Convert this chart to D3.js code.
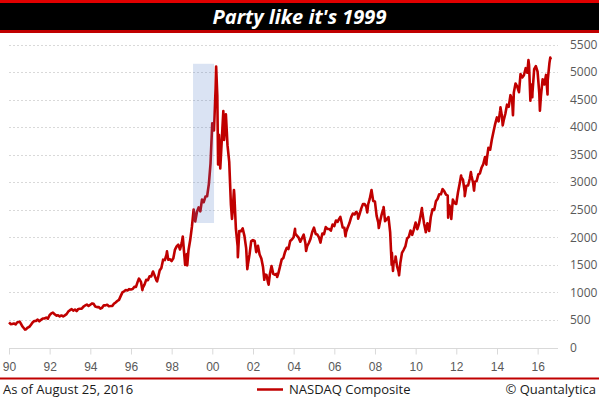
<!DOCTYPE html>
<html lang="en">
<head>
<meta charset="utf-8">
<title>Party like it's 1999</title>
<script src="https://d3js.org/d3.v7.min.js"></script>
<style>
body { margin: 0; background: white; }
svg { display: block; font-family: "Open Sans", "Noto Sans", sans-serif; }
.grid line { stroke: #d9d9d9; stroke-dasharray: 2,2; }
.tick-label { fill: #595959; font-size: 12px; }
.foot { fill: #1a1a1a; font-size: 13px; }
</style>
</head>
<body>
<script>

// month-end closes, Jan 1990 .. Jul 2016
var firstMonth = "1990-01";
var monthly = [
// 1990
425,426,435,420,459,462,438,381,344,329,359,374,
// 1991
414,453,482,484,506,476,502,525,527,542,523,586,
// 1992
620,633,603,579,585,563,581,563,583,605,652,677,
// 1993
696,670,690,661,700,704,705,743,763,779,754,777,
// 1994
800,793,743,733,735,706,722,765,764,777,750,752,
// 1995
755,793,817,843,865,933,1001,1020,1044,1036,1059,1052,
// 1996
1060,1100,1101,1191,1243,1185,1081,1142,1227,1222,1293,1291,
// 1997
1380,1309,1222,1261,1400,1442,1594,1587,1686,1593,1601,1570,
// 1998
1619,1771,1836,1868,1779,1895,1873,1499,1694,1771,1950,2193,
// 1999
2506,2288,2461,2543,2471,2686,2638,2739,2746,2966,3336,4069,
// 2000
3940,4697,4573,3861,3401,3966,3767,4206,3673,3370,2598,2471,
// 2001
2773,2152,1840,2116,2110,2161,2027,1805,1499,1690,1931,1950,
// 2002
1934,1731,1845,1688,1616,1463,1328,1315,1172,1330,1479,1336,
// 2003
1321,1337,1341,1464,1596,1623,1735,1810,1787,1932,1960,2003,
// 2004
2066,2030,1994,1920,1987,2048,1887,1838,1897,1975,2097,2175,
// 2005
2062,2052,1999,1922,2068,2057,2185,2152,2152,2120,2233,2205,
// 2006
2306,2281,2340,2323,2179,2172,2091,2184,2258,2367,2432,2415,
// 2007
2464,2416,2422,2525,2605,2603,2546,2596,2702,2859,2661,2652,
// 2008
2390,2271,2279,2413,2523,2293,2326,2368,2092,1721,1536,1577,
// 2009
1476,1378,1529,1717,1774,1835,1979,2009,2122,2045,2145,2269,
// 2010
2147,2238,2398,2461,2257,2109,2255,2114,2369,2507,2498,2653,
// 2011
2700,2782,2781,2874,2835,2774,2756,2579,2415,2684,2620,2605,
// 2012
2814,2967,3092,3046,2827,2935,2940,3067,3116,2977,3010,3020,
// 2013
3142,3160,3268,3329,3456,3403,3626,3590,3771,3920,4060,4177,
// 2014
4104,4308,4199,4115,4243,4408,4370,4580,4493,4631,4792,4736,
// 2015
4635,4964,4901,4941,5070,4987,5128,4777,4620,5054,5109,5007,
// 2016
4614,4558,4870,4775,4948,4843,5162
];

// intra-month highs and lows
var extraDates = ["1990-01-02","1990-07-12","1990-10-16","1996-05-22","1996-07-24","1997-04-14",
  "1997-10-09","1998-07-20","1998-10-08","2000-03-10","2000-04-14","2000-05-23","2000-07-17",
  "2000-09-01","2000-12-20","2001-01-24","2001-04-04","2001-09-21","2002-07-23","2002-10-09",
  "2003-03-11","2004-01-26","2004-08-12","2005-04-28","2006-04-19","2006-07-21","2007-03-05",
  "2007-08-16","2008-03-10","2008-06-05","2008-10-27","2008-11-20","2009-01-06","2009-03-09",
  "2010-04-23","2010-07-02","2011-04-29","2011-08-08","2011-10-03","2012-03-27","2012-06-01",
  "2012-09-19","2012-11-15","2013-06-24","2014-03-05","2014-04-14","2014-10-15","2015-07-20",
  "2015-08-24","2015-09-28","2016-02-11","2016-06-27","2016-08-15","2016-08-25"];
var extraValues = [455,469,325,1250,1042,1201,
  1745,2014,1490,5100,3321,3250,4290,
  4234,2333,2860,1638,1423,1229,1140,
  1279,2153,1752,1904,2370,2020,2340,
  2452,2169,2549,1505,1390,1652,1310,
  2530,2091,2874,2357,2335,3122,2747,
  3183,2846,3320,4358,4032,4215,5218,
  4480,4543,4300,4594,5262,5230];

var yTicks = [0,500,1000,1500,2000,2500,3000,3500,4000,4500,5000,5500];
var highlight = { from: "1999-01-20", to: "2000-02-01", low: 2260, high: 5150 };

var titleText = "Party like it's 1999";
var asOfText = "As of August 25, 2016";
var seriesName = "NASDAQ Composite";
var sourceText = "\u00a9 Quantalytica";

var width = 599, height = 399;
var parseMonth = d3.timeParse("%Y-%m");
var parseDay = d3.timeParse("%Y-%m-%d");

// build the series: month ends plus the extra points, sorted by date
var start = parseMonth(firstMonth);
var data = monthly.map(function(v, i) {
  var m = d3.timeMonth.offset(start, i + 1);
  return { date: d3.timeDay.offset(m, -1), value: v };
});
extraDates.forEach(function(d, i) {
  data.push({ date: parseDay(d), value: extraValues[i] });
});
data = d3.sort(data, function(d) { return d.date; });

var svg = d3.select("body").append("svg").attr("width", width).attr("height", height);
svg.append("rect").attr("width", width).attr("height", height).attr("fill", "white");

// title bar
svg.append("rect").attr("x", 0).attr("y", 0).attr("width", width).attr("height", 33).attr("fill", "#000");
svg.append("rect").attr("x", 0).attr("y", 0).attr("width", width).attr("height", 3).attr("fill", "#e00000");
svg.append("rect").attr("x", 0).attr("y", 30).attr("width", width).attr("height", 3).attr("fill", "#c00000");
svg.append("text")
  .attr("x", width / 2).attr("y", 24)
  .attr("text-anchor", "middle")
  .attr("fill", "white")
  .style("font-size", "20px").style("font-weight", "bold").style("font-style", "italic")
  .text(titleText);

var x = d3.scaleTime()
  .domain([new Date(1990, 0, 1), new Date(2017, 0, 1)])
  .range([9, 558]);
var y = d3.scaleLinear().domain([0, 5500]).range([347.5, 44.5]);

// gridlines
svg.append("g").attr("class", "grid")
  .selectAll("line")
  .data(yTicks.filter(function(t) { return t > 0; }))
  .enter().append("line")
  .attr("x1", x.range()[0]).attr("x2", x.range()[1])
  .attr("y1", function(d) { return Math.round(y(d)) + 0.5; })
  .attr("y2", function(d) { return Math.round(y(d)) + 0.5; });

// x axis
var xAxis = d3.axisBottom(x)
  .ticks(d3.timeYear.every(2))
  .tickFormat(d3.timeFormat("%y"))
  .tickSize(6).tickPadding(8);
var gx = svg.append("g").attr("transform", "translate(0," + (Math.round(y(0)) + 0.5) + ")").call(xAxis);
gx.select(".domain").attr("stroke", "#d9d9d9").attr("d", "M" + x.range()[0] + ",0H" + x.range()[1]);
gx.selectAll(".tick line").attr("stroke", "#d9d9d9");
gx.selectAll(".tick text").attr("class", "tick-label").attr("font-family", null).attr("font-size", null);

// y labels on the right
svg.append("g").selectAll("text")
  .data(yTicks)
  .enter().append("text")
  .attr("class", "tick-label")
  .attr("x", 570)
  .attr("y", function(d) { return y(d); })
  .attr("dy", "0.35em")
  .text(function(d) { return d; });

// the series
var line = d3.line()
  .x(function(d) { return x(d.date); })
  .y(function(d) { return y(d.value); });
svg.append("path")
  .datum(data)
  .attr("fill", "none")
  .attr("stroke", "#c00000")
  .attr("stroke-width", 2.6)
  .attr("stroke-linejoin", "round")
  .attr("d", line);

// 1999 highlight box, drawn over the line
svg.append("rect")
  .attr("x", x(parseDay(highlight.from)))
  .attr("y", y(highlight.high))
  .attr("width", x(parseDay(highlight.to)) - x(parseDay(highlight.from)))
  .attr("height", y(highlight.low) - y(highlight.high))
  .attr("fill", "#4472c4")
  .attr("fill-opacity", 0.2);

// footer
svg.append("rect").attr("x", 0).attr("y", 377.5).attr("width", width).attr("height", 2).attr("fill", "#c00000");
svg.append("text").attr("class", "foot").attr("x", 3).attr("y", 394).text(asOfText);
svg.append("line")
  .attr("x1", 257).attr("x2", 283).attr("y1", 389.5).attr("y2", 389.5)
  .attr("stroke", "#c00000").attr("stroke-width", 2.5);
svg.append("text").attr("class", "foot").attr("x", 289).attr("y", 394).text(seriesName);
svg.append("text").attr("class", "foot").attr("x", 596).attr("y", 394)
  .attr("text-anchor", "end").text(sourceText);

</script>
</body>
</html>
